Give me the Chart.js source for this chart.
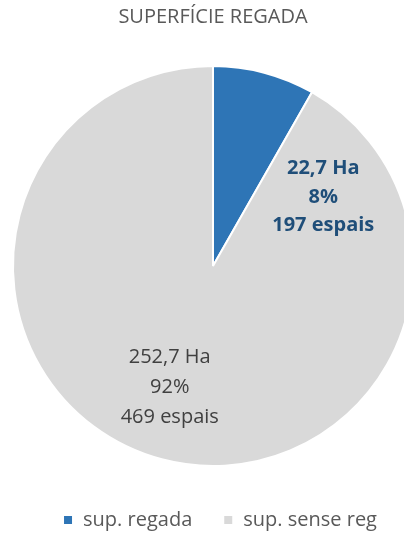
<!DOCTYPE html>
<html>
<head>
<meta charset="utf-8">
<script src="https://cdn.jsdelivr.net/npm/chart.js@4"></script>
<style>
	html, body { margin: 0; padding: 0; background: #fff; overflow: hidden; }
	#wrap { position: relative; width: 426px; height: 540px; }
</style>
</head>
<body>
<div id="wrap"><canvas id="pie"></canvas></div>
<script>
// dades
var categories = ['sup. regada', 'sup. sense reg'];
var hectarees = [22.7, 252.7];
var espais = [197, 469];
var colors = ['#2E75B6', '#D9D9D9'];
var labelColors = ['#1F4E79', '#404040'];

var FONT = '"Open Sans", Lato, sans-serif';

// on es col·loca cada etiqueta (angle en graus, fracció del radi)
var labelPos = [
	{ angle: -32, r: 0.65, bold: true, step: 28.5 },
	{ angle: 109.6, r: 0.645, bold: false, step: 30 }
];

function fmt(n) {
	return n.toFixed(1).replace('.', ',');
}

var total = hectarees.reduce(function(a, b) { return a + b; }, 0);

var sliceLabels = {
	id: 'sliceLabels',
	afterDatasetsDraw: function(chart) {
		var ctx = chart.ctx;
		var meta = chart.getDatasetMeta(0);
		meta.data.forEach(function(arc, i) {
			var p = labelPos[i];
			var a = p.angle * Math.PI / 180;
			var cx = arc.x + Math.cos(a) * arc.outerRadius * p.r;
			var cy = arc.y + Math.sin(a) * arc.outerRadius * p.r;
			var lines = [
				fmt(hectarees[i]) + ' Ha',
				Math.round(hectarees[i] / total * 100) + '%',
				espais[i] + ' espais'
			];
			ctx.save();
			ctx.fillStyle = labelColors[i];
			ctx.font = (p.bold ? 'bold ' : '') + '20px ' + FONT;
			ctx.textAlign = 'center';
			ctx.textBaseline = 'middle';
			lines.forEach(function(t, k) {
				ctx.fillText(t, cx, cy + (k - 1) * p.step);
			});
			ctx.restore();
		});
	}
};

// la llegenda de l'original queda una mica a la dreta
var legendShift = {
	id: 'legendShift',
	afterLayout: function(chart) {
		chart.legend.left += 7;
		chart.legend.right += 7;
	}
};

var chart = new Chart(document.getElementById('pie'), {
	type: 'pie',
	data: {
		labels: categories,
		datasets: [{
			data: hectarees,
			backgroundColor: colors,
			borderColor: '#ffffff',
			borderWidth: 2
		}]
	},
	options: {
		responsive: true,
		maintainAspectRatio: false,
		animation: false,
		radius: 200,
		layout: { padding: 0 },
		plugins: {
			title: {
				display: true,
				text: 'SUPERFÍCIE REGADA',
				color: '#595959',
				font: { family: FONT, size: 20, weight: 'normal' },
				padding: { top: 5, bottom: 24 }
			},
			legend: {
				position: 'bottom',
				labels: {
					color: '#595959',
					font: { family: FONT, size: 20 },
					boxWidth: 10,
					boxHeight: 10,
					padding: 31
				}
			},
			tooltip: { enabled: false }
		}
	},
	plugins: [sliceLabels, legendShift]
});
</script>
</body>
</html>
